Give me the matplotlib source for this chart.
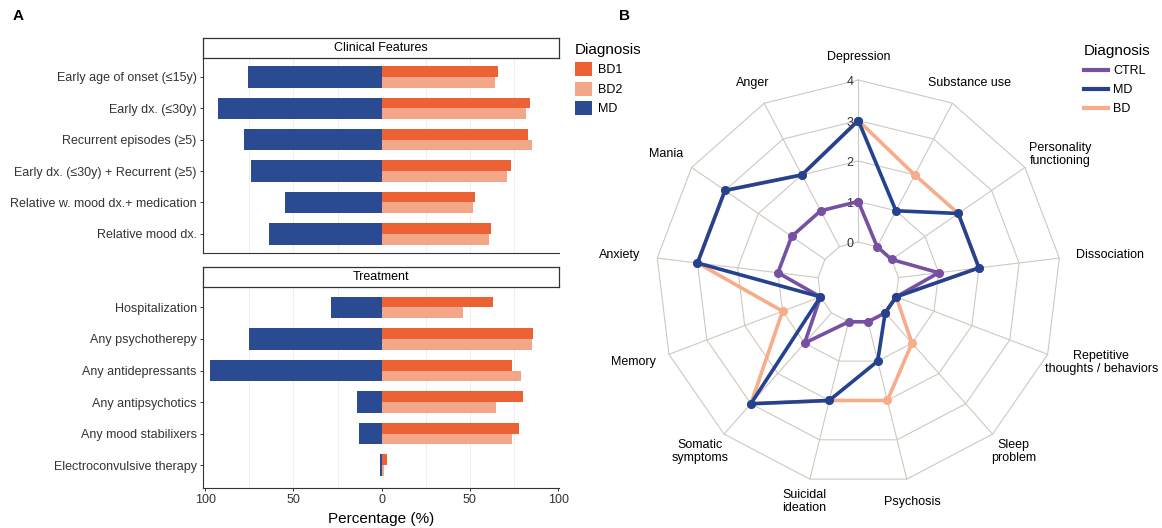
import numpy as np
import matplotlib
matplotlib.use("Agg")
import matplotlib.pyplot as plt
from matplotlib.patches import Patch
from matplotlib.lines import Line2D

plt.rcParams['font.family'] = ['Liberation Sans', 'DejaVu Sans']

# ---------------- data ----------------
clinical_labels = ["Early age of onset (≤15y)", "Early dx. (≤30y)", "Recurrent episodes (≥5)",
                   "Early dx. (≤30y) + Recurrent (≥5)", "Relative w. mood dx.+ medication",
                   "Relative mood dx."]
clinical_md = [76, 93, 78, 74, 55, 64]
clinical_bd1 = [66, 84, 83, 73, 53, 62]
clinical_bd2 = [64, 82, 85, 71, 52, 61]

treatment_labels = ["Hospitalization", "Any psychotherepy", "Any antidepressants",
                    "Any antipsychotics", "Any mood stabilixers", "Electroconvulsive therapy"]
treatment_md = [29, 75, 97, 14, 13, 1]
treatment_bd1 = [63, 86, 74, 80, 78, 3]
treatment_bd2 = [46, 85, 79, 65, 74, 1.5]

xtick_vals = [-100, -50, 0, 50, 100]
xtick_labels = ["100", "50", "0", "50", "100"]

radar_axes = ["Depression", "Substance use", "Personality\nfunctioning", "Dissociation",
              "Repetitive\nthoughts / behaviors", "Sleep\nproblem", "Psychosis",
              "Suicidal\nideation", "Somatic\nsymptoms", "Memory", "Anxiety", "Mania", "Anger"]
radar_ctrl = [1, 0, 0, 1, 0, 0, 0, 0, 1, 0, 1, 1, 1]
radar_md = [3, 1, 2, 2, 0, 0, 1, 2, 3, 0, 3, 3, 2]
radar_bd = [3, 2, 2, 2, 0, 1, 2, 2, 3, 1, 3, 3, 2]
radar_levels = [0, 1, 2, 3, 4]

# ---------------- styles ----------------
C_BD1, C_BD2, C_MD = "#EC6235", "#F4A688", "#2A4A92"
R_CTRL, R_MD, R_BD = "#7750A1", "#24428F", "#F7AC8A"
GRID = "#CFC8C0"
TXT = "#333333"

W, H = 1162, 528
fig = plt.figure(figsize=(W / 100, H / 100), dpi=100)


def px_axes(x0, y0, x1, y1):
    return fig.add_axes([x0 / W, 1 - y1 / H, (x1 - x0) / W, (y1 - y0) / H])


PX_PER_PCT = 1.765
ZERO_X = 381.7
XL = ((203 - ZERO_X) / PX_PER_PCT, (559 - ZERO_X) / PX_PER_PCT)
BW = 0.68


def bar_panel(ax, labels, md, bd1, bd2, ylim, show_x):
    pos = np.arange(len(labels))
    for g in [-75, -50, -25, 25, 50, 75]:
        ax.axvline(g, color="#EBEBEB", lw=0.6, zorder=0)
    ax.barh(pos, [-v for v in md], height=BW, color=C_MD, zorder=2)
    ax.barh(pos - BW / 4, bd1, height=BW / 2, color=C_BD1, zorder=2)
    ax.barh(pos + BW / 4, bd2, height=BW / 2, color=C_BD2, zorder=2)
    ax.set_yticks(pos)
    ax.set_yticklabels(labels, fontsize=9, color=TXT)
    ax.set_xlim(*XL)
    ax.set_ylim(*ylim)
    for s in ["top", "right"]:
        ax.spines[s].set_visible(False)
    for s in ["left", "bottom"]:
        ax.spines[s].set_color(TXT)
        ax.spines[s].set_linewidth(0.8)
    ax.tick_params(axis="y", length=2.5, width=0.7, color=TXT, pad=2)
    ax.set_xticks(xtick_vals)
    if show_x:
        ax.set_xticklabels(xtick_labels, fontsize=9, color=TXT)
        ax.tick_params(axis="x", length=2.5, width=0.7, color=TXT, pad=2)
        ax.set_xlabel("Percentage (%)", fontsize=11, color="black", labelpad=4)
    else:
        ax.tick_params(axis="x", length=0, labelbottom=False)


def strip(x0, y0, x1, y1, text):
    s = px_axes(x0, y0, x1, y1)
    s.set_xticks([]); s.set_yticks([])
    for sp in s.spines.values():
        sp.set_color(TXT); sp.set_linewidth(0.9)
    s.text(0.5, 0.5, text, ha="center", va="center", fontsize=9, color="black",
           transform=s.transAxes)


ax1 = px_axes(203, 58, 559, 253.3)
bar_panel(ax1, clinical_labels, clinical_md, clinical_bd1, clinical_bd2, (5.62, -0.6), False)
strip(203, 38.3, 559, 58, "Clinical Features")

ax2 = px_axes(203, 286.7, 559, 487.7)
bar_panel(ax2, treatment_labels, treatment_md, treatment_bd1, treatment_bd2, (5.72, -0.66), True)
strip(203, 267.3, 559, 286.7, "Treatment")

fig.legend(handles=[Patch(facecolor=C_BD1, label="BD1"),
                    Patch(facecolor=C_BD2, label="BD2"),
                    Patch(facecolor=C_MD, label="MD")],
           title="Diagnosis", loc="upper left", bbox_to_anchor=(575 / W, 1 - 43 / H),
           frameon=False, fontsize=9, title_fontsize=11, handlelength=1.35,
           handleheight=1.35, handletextpad=0.5, labelspacing=0.42, borderpad=0,
           borderaxespad=0, alignment="left")

# ---------------- radar ----------------
PPU = 40.5
CX, CY = 858.3, 282.5
rax = px_axes(CX - 218, CY - 231, CX + 218, CY + 231)
rax.set_xlim(-218 / PPU, 218 / PPU)
rax.set_ylim(-231 / PPU, 231 / PPU)
rax.axis("off")

n = len(radar_axes)
theta = np.arange(n) * 2 * np.pi / n
sx, cy_ = np.sin(theta), np.cos(theta)

for lv in radar_levels:
    r = lv + 1
    rax.plot(np.append(r * sx, r * sx[0]), np.append(r * cy_, r * cy_[0]),
             color=GRID, lw=0.8, zorder=1)
    rax.text(-0.12, r - 0.05, str(lv), ha="right", va="center", fontsize=9, color=TXT, zorder=1)
rmin, rmax = radar_levels[0] + 1, radar_levels[-1] + 1
for i in range(n):
    rax.plot([rmin * sx[i], rmax * sx[i]], [rmin * cy_[i], rmax * cy_[i]],
             color=GRID, lw=0.8, zorder=1)

for vals, col, lab, z in [(radar_bd, R_BD, "BD", 3), (radar_ctrl, R_CTRL, "CTRL", 4),
                          (radar_md, R_MD, "MD", 5)]:
    r = np.array(vals) + 1.0
    xs, ys = r * sx, r * cy_
    rax.plot(np.append(xs, xs[0]), np.append(ys, ys[0]), "-o", color=col, lw=2.6,
             ms=5.5, zorder=z, label=lab)

RH, RV = 5.42, 5.57
labels_txt = []
for i, name in enumerate(radar_axes):
    t = rax.text(RH * sx[i], RV * cy_[i], name, ha="center", va="center", fontsize=9,
                 color="black", linespacing=1.15, multialignment="center")
    labels_txt.append(t)

fig.canvas.draw()
rend = fig.canvas.get_renderer()
for i, t in enumerate(labels_txt):
    bb = t.get_window_extent(rend)
    wd = bb.width / PPU
    x, y = t.get_position()
    nx = x + sx[i] * abs(sx[i]) * wd / 2
    # keep inside the figure
    right_px = CX + nx * PPU + bb.width / 2
    if right_px > W - 4:
        nx -= (right_px - (W - 4)) / PPU
    t.set_position((nx, y))

fig.legend(handles=[Line2D([], [], color=R_CTRL, lw=3, label="CTRL"),
                    Line2D([], [], color=R_MD, lw=3, label="MD"),
                    Line2D([], [], color=R_BD, lw=3, label="BD")],
           title="Diagnosis", loc="upper left", bbox_to_anchor=(1084 / W, 1 - 44 / H),
           frameon=False, fontsize=9, title_fontsize=11, handlelength=1.9,
           handletextpad=0.45, labelspacing=0.57, borderpad=0, borderaxespad=0,
           alignment="left")

fig.text(18.5 / W, 1 - 15.5 / H, "A", fontsize=11, fontweight="bold", ha="center", va="center")
fig.text(625 / W, 1 - 15.5 / H, "B", fontsize=11, fontweight="bold", ha="center", va="center")

fig.savefig("out.png", dpi=100)
